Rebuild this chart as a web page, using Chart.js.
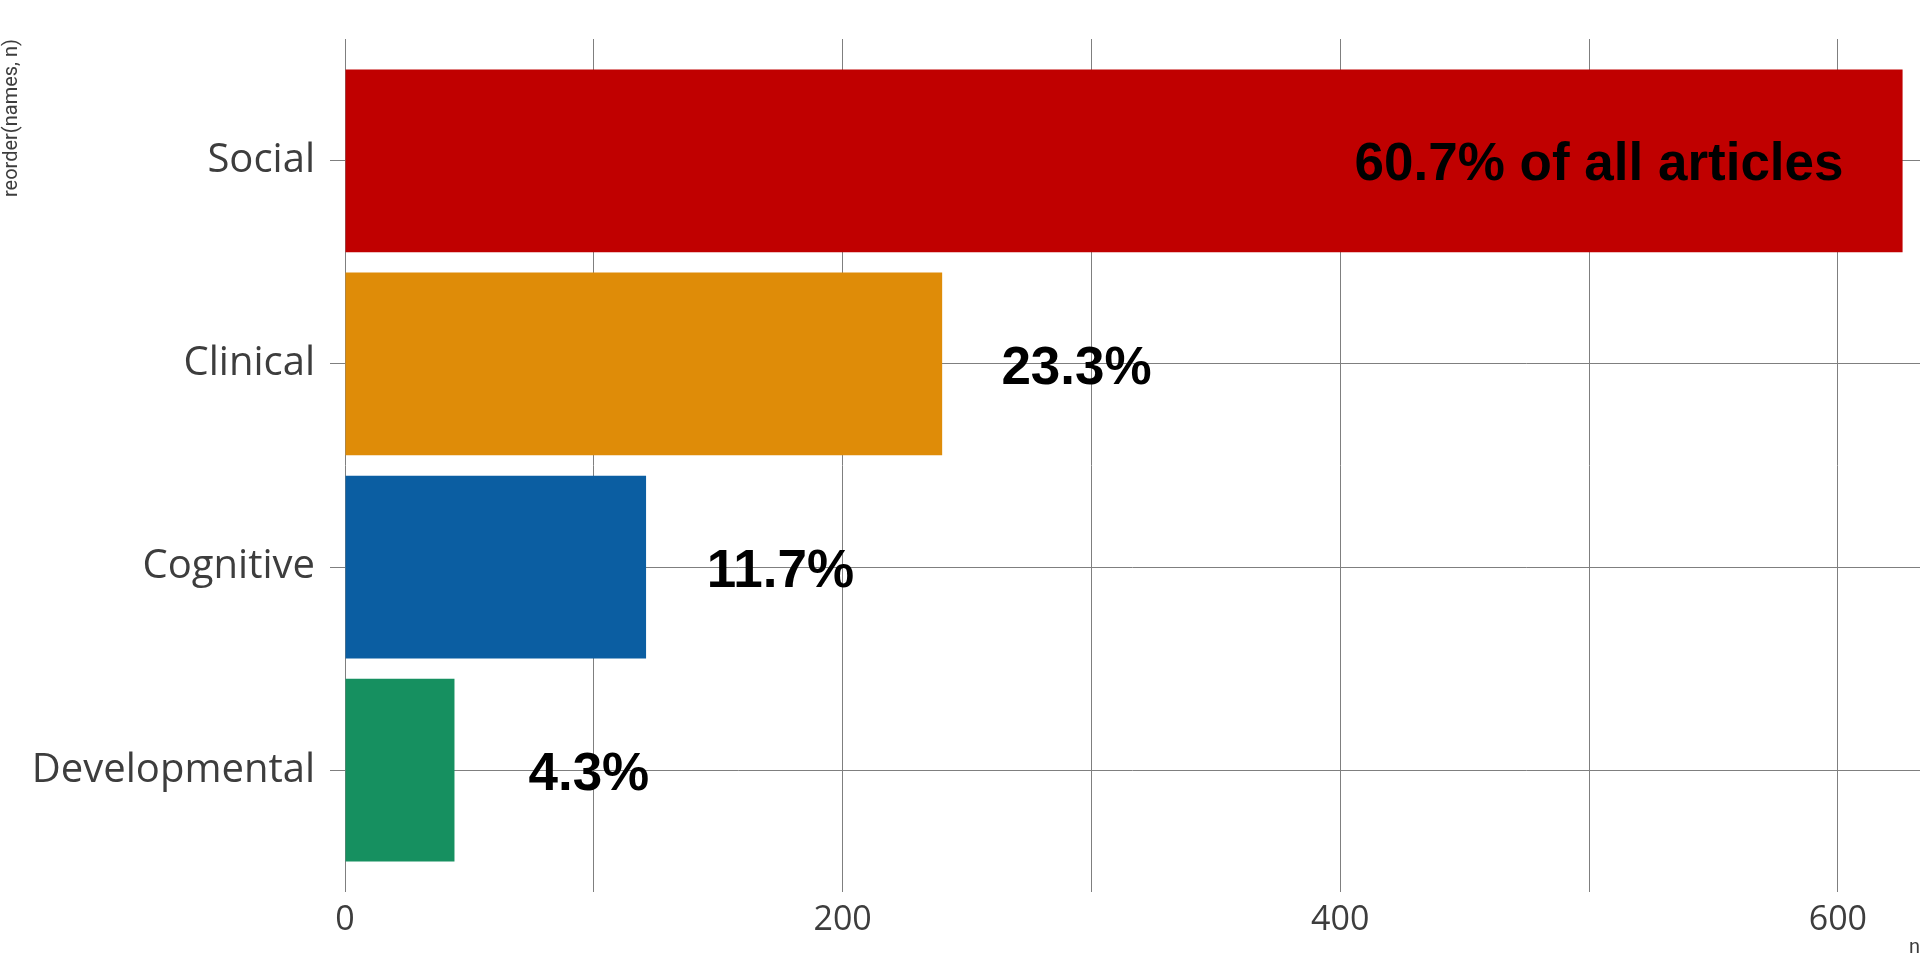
<!DOCTYPE html>
<html>
<head>
<meta charset="utf-8">
<title>Articles by area</title>
<script src="https://cdn.jsdelivr.net/npm/chart.js@4.4.1/dist/chart.umd.min.js"></script>
<style>
  html, body { margin: 0; padding: 0; background: #ffffff; }
  #wrap { width: 1920px; height: 960px; }
</style>
</head>
<body>
<div id="wrap"><canvas id="bar-chart" width="1920" height="960"></canvas></div>
<script>
// data
const names = ['Social', 'Clinical', 'Cognitive', 'Developmental'];
const counts = [626, 240, 121, 44];
const pctLabels = ['60.7% of all articles', '23.3%', '11.7%', '4.3%'];
const barColors = ['#c00000', '#df8c08', '#0b5ea2', '#169060'];
const xTickValues = [0, 100, 200, 300, 400, 500, 600];
const xTickShown = [0, 200, 400, 600];

const gridGrey = '#7f7f7f';
const textGrey = '#3d3d3d';

// position on the y axis: first name at the top
const yPos = (i) => names.length - i;

// percent labels next to / inside the bars
const pctLabelPlugin = {
  id: 'pctLabels',
  afterDatasetsDraw(chart) {
    const { ctx, scales } = chart;
    const meta = chart.getDatasetMeta(0);
    ctx.save();
    ctx.font = 'bold 53px "Liberation Sans", Arial, sans-serif';
    ctx.fillStyle = '#000000';
    ctx.textAlign = 'center';
    ctx.textBaseline = 'middle';
    meta.data.forEach((bar, i) => {
      // largest bar gets its label inside, the rest just past the bar end
      const shift = i === 0 ? -122 : 54;
      const x = scales.x.getPixelForValue(counts[i] + shift);
      ctx.fillText(pctLabels[i], x, bar.y + 5);
    });
    ctx.restore();
  }
};

const data = {
  datasets: [{
    label: 'n',
    data: counts.map((n, i) => ({ x: n, y: yPos(i) })),
    backgroundColor: barColors,
    borderWidth: 0,
    categoryPercentage: 1,
    barPercentage: 0.9
  }]
};

const config = {
  type: 'bar',
  data: data,
  options: {
    indexAxis: 'y',
    responsive: false,
    animation: false,
    devicePixelRatio: 1,
    layout: {
      padding: { top: 39, left: 0, right: 0, bottom: 0 }
    },
    scales: {
      x: {
        type: 'linear',
        min: 0,
        max: 633,
        afterBuildTicks(axis) {
          axis.ticks = xTickValues.map(v => ({ value: v }));
        },
        afterFit(axis) {
          axis.height = 68;
        },
        grid: {
          color: gridGrey,
          lineWidth: 1,
          drawTicks: false
        },
        border: { display: false },
        ticks: {
          autoSkip: false,
          maxRotation: 0,
          padding: 8,
          color: textGrey,
          font: { family: '"Open Sans", "Noto Sans", sans-serif', size: 34 },
          callback: (v) => xTickShown.includes(v) ? String(v) : ''
        },
        title: {
          display: true,
          text: 'n',
          align: 'end',
          color: textGrey,
          padding: 0,
          font: { family: 'Roboto, "Liberation Sans", sans-serif', size: 20 }
        }
      },
      y: {
        type: 'linear',
        offset: false,
        min: 0.4,
        max: 4.6,
        afterBuildTicks(axis) {
          axis.ticks = names.map((_, i) => ({ value: yPos(i) }));
        },
        afterFit(axis) {
          axis.width = 345;
        },
        grid: {
          offset: false,
          color: gridGrey,
          lineWidth: 1,
          drawTicks: true,
          tickLength: 15
        },
        border: { display: false },
        ticks: {
          autoSkip: false,
          padding: 15,
          color: textGrey,
          font: { family: '"Open Sans", "Noto Sans", sans-serif', size: 40 },
          callback: (v) => names[names.length - v] || ''
        },
        title: {
          display: true,
          text: 'reorder(names, n)',
          align: 'end',
          color: textGrey,
          padding: 0,
          font: { family: 'Roboto, "Liberation Sans", sans-serif', size: 20 }
        }
      }
    },
    plugins: {
      legend: { display: false },
      tooltip: { enabled: false }
    }
  },
  plugins: [pctLabelPlugin]
};

const barChart = new Chart(
  document.getElementById('bar-chart').getContext('2d'),
  config
);
</script>
</body>
</html>
